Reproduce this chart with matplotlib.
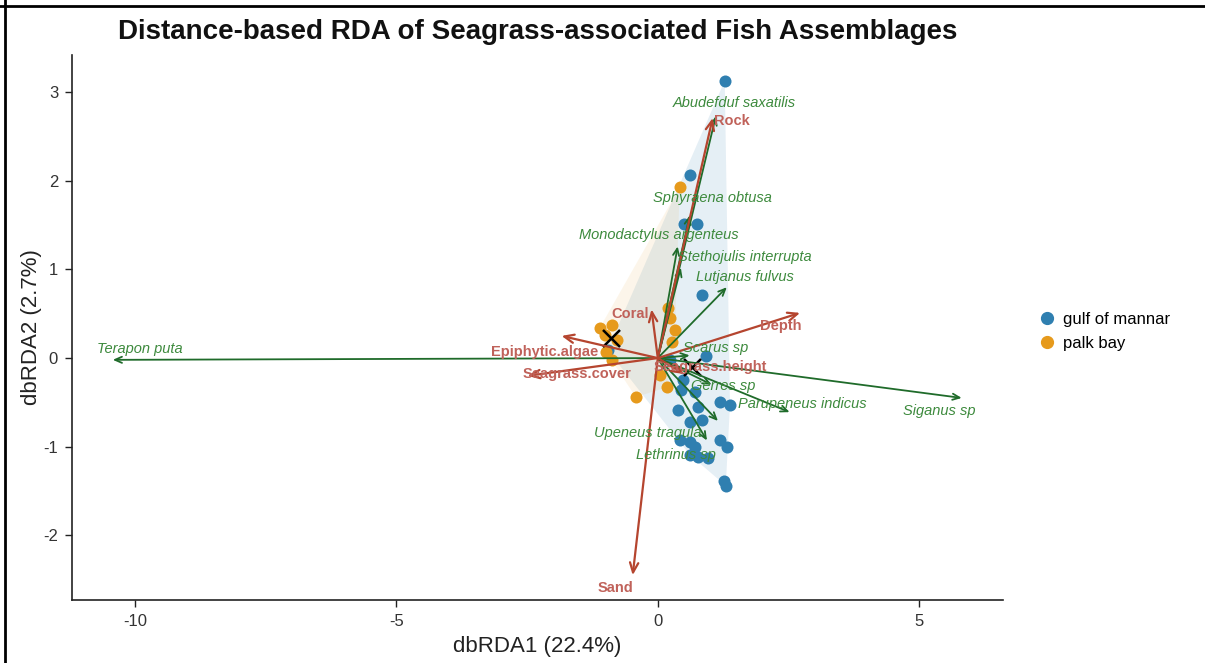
import numpy as np
import matplotlib
matplotlib.use("Agg")
import matplotlib.pyplot as plt
from matplotlib.lines import Line2D

plt.rcParams['font.family'] = ['Liberation Sans', 'DejaVu Sans']

# ---- site scores (dbRDA1, dbRDA2) ----
gulf_x = [1.28, 0.61, 0.50, 0.75, 0.84, 0.92, 0.48, 0.44, 0.71, 1.19, 1.38, 0.38, 0.76,
          0.61, 0.84, 0.42, 0.61, 0.71, 1.19, 1.32, 0.61, 0.76, 0.96, 1.26, 1.30, -0.96, 0.23]
gulf_y = [3.13, 2.07, 1.51, 1.51, 0.71, 0.02, -0.25, -0.36, -0.38, -0.50, -0.53, -0.59, -0.55,
          -0.72, -0.70, -0.93, -0.95, -1.00, -0.93, -1.00, -1.09, -1.12, -1.13, -1.39, -1.44, 0.09, -0.02]
palk_x = [0.42, -1.11, -0.88, -1.01, -0.78, -0.99, -0.88, -0.42, 0.17, 0.23, 0.33, 0.27, 0.04, 0.19]
palk_y = [1.93, 0.34, 0.37, 0.26, 0.20, 0.07, -0.02, -0.44, -0.33, 0.45, 0.32, 0.18, -0.19, 0.56]

# group centroids
cent_x = [0.66, -0.90]
cent_y = [-0.10, 0.23]

# ---- environmental vectors ----
env_names = ["Rock", "Sand", "Depth", "Coral", "Epiphytic.algae", "Seagrass.cover", "Seagrass.height"]
env_x = [1.05, -0.48, 2.72, -0.12, -1.84, -2.49, 0.50]
env_y = [2.71, -2.45, 0.51, 0.55, 0.25, -0.20, -0.18]
env_lab_x = [1.42, -0.80, 2.35, -0.52, -2.16, -1.55, 1.00]
env_lab_y = [2.68, -2.60, 0.36, 0.50, 0.07, -0.18, -0.10]

# ---- species vectors ----
sp_names = ["Terapon puta", "Siganus sp", "Parupeneus indicus", "Abudefduf saxatilis",
            "Sphyraena obtusa", "Monodactylus argenteus", "Stethojulis interrupta",
            "Lutjanus fulvus", "Scarus sp", "Gerres sp", "Upeneus tragula", "Lethrinus sp"]
sp_x = [-10.42, 5.81, 2.52, 1.11, 0.61, 0.38, 0.44, 1.32, 0.61, 1.03, 1.15, 0.94]
sp_y = [-0.02, -0.45, -0.61, 2.73, 1.61, 1.26, 1.02, 0.80, 0.03, -0.30, -0.71, -0.93]
sp_lab_x = [-9.90, 5.39, 2.77, 1.47, 1.05, 0.02, 1.66, 1.66, 1.11, 1.25, -0.19, 0.34]
sp_lab_y = [0.10, -0.60, -0.52, 2.88, 1.81, 1.39, 1.14, 0.91, 0.11, -0.31, -0.84, -1.09]

groups = ["gulf of mannar", "palk bay"]
group_colors = ["#2f7fb0", "#e69a1c"]
env_color = "#b5452f"
env_text = "#c0625a"
sp_color = "#1f6b2a"
sp_text = "#3d8a3d"


def convex_hull(xs, ys):
    pts = sorted(set(zip(xs, ys)))

    def cross(o, a, b):
        return (a[0] - o[0]) * (b[1] - o[1]) - (a[1] - o[1]) * (b[0] - o[0])

    lower, upper = [], []
    for p in pts:
        while len(lower) >= 2 and cross(lower[-2], lower[-1], p) <= 0:
            lower.pop()
        lower.append(p)
    for p in reversed(pts):
        while len(upper) >= 2 and cross(upper[-2], upper[-1], p) <= 0:
            upper.pop()
        upper.append(p)
    return np.array(lower[:-1] + upper[:-1])


fig = plt.figure(figsize=(12.05, 6.63), dpi=100)
ax = fig.add_axes([72 / 1205, 1 - 600 / 663, (1003 - 72) / 1205, (600 - 55) / 663])

# group hulls
for xs, ys, c, a in [(gulf_x, gulf_y, group_colors[0], 0.12),
                     (palk_x, palk_y, group_colors[1], 0.09)]:
    hull = convex_hull(xs, ys)
    ax.fill(hull[:, 0], hull[:, 1], color=c, alpha=a, lw=0, zorder=1)

# sites
ax.scatter(gulf_x, gulf_y, s=75, color=group_colors[0], lw=0, zorder=2)
ax.scatter(palk_x, palk_y, s=75, color=group_colors[1], lw=0, zorder=2)
ax.scatter(cent_x, cent_y, s=150, marker='x', color='black', lw=1.8, zorder=2.5)

# environmental arrows
for x, y in zip(env_x, env_y):
    ax.annotate('', xy=(x, y), xytext=(0, 0),
                arrowprops=dict(arrowstyle='->,head_length=0.7,head_width=0.3',
                                color=env_color, lw=1.6, shrinkA=0, shrinkB=0), zorder=4)
# species arrows
for x, y in zip(sp_x, sp_y):
    ax.annotate('', xy=(x, y), xytext=(0, 0),
                arrowprops=dict(arrowstyle='->,head_length=0.5,head_width=0.22',
                                color=sp_color, lw=1.3, shrinkA=0, shrinkB=0), zorder=3)

for name, x, y in zip(env_names, env_lab_x, env_lab_y):
    ax.text(x, y, name, color=env_text, fontsize=10.5, fontweight='bold',
            ha='center', va='center', zorder=5)
for name, x, y in zip(sp_names, sp_lab_x, sp_lab_y):
    ax.text(x, y, name, color=sp_text, fontsize=10.5, fontstyle='italic',
            ha='center', va='center', zorder=5)

ax.set_xlim(-11.2, 6.6)
ax.set_ylim(-2.73, 3.42)
ax.set_xticks([-10, -5, 0, 5])
ax.set_xticklabels(['-10', '-5', '0', '5'])
ax.set_yticks([-2, -1, 0, 1, 2, 3])
ax.set_yticklabels(['-2', '-1', '0', '1', '2', '3'])
for s in ['top', 'right']:
    ax.spines[s].set_visible(False)
for s in ['left', 'bottom']:
    ax.spines[s].set_linewidth(1.2)
    ax.spines[s].set_color('#222222')
ax.tick_params(direction='out', length=5, width=1, colors='#222222', labelsize=12,
               labelcolor='#333333', pad=5)
ax.set_xlabel('dbRDA1 (22.4%)', fontsize=16, color='#222222', labelpad=5)
ax.set_ylabel('dbRDA2 (2.7%)', fontsize=16, color='#222222', labelpad=1)

fig.text((72 + 1003) / 2 / 1205, 1 - 32 / 663,
         'Distance-based RDA of Seagrass-associated Fish Assemblages',
         fontsize=20, fontweight='bold', ha='center', va='center', color='#111111')

handles = [Line2D([], [], marker='o', ls='', color=c, markersize=8.5) for c in group_colors]
fig.legend(handles, groups, loc='upper left', bbox_to_anchor=(1030 / 1205, 1 - 305 / 663),
           frameon=False, fontsize=12, handletextpad=0.4, labelspacing=0.55,
           handlelength=1.2, borderaxespad=0)

# frame lines at the top and left of the figure
fig.add_artist(Line2D([0, 1], [1 - 6 / 663, 1 - 6 / 663], color='black', lw=2,
                      transform=fig.transFigure))
fig.add_artist(Line2D([5 / 1205, 5 / 1205], [0, 1], color='black', lw=2,
                      transform=fig.transFigure))

fig.savefig('out.png', dpi=100, facecolor='white')
